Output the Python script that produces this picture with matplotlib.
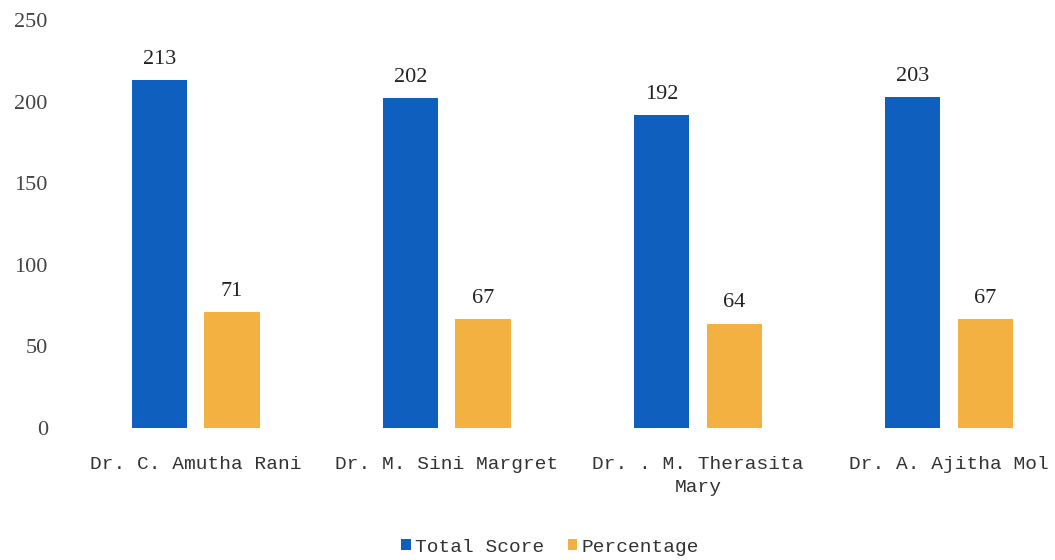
import matplotlib
matplotlib.use("Agg")
import matplotlib.pyplot as plt
import numpy as np

categories = ["Dr. C. Amutha Rani", "Dr. M. Sini Margret", "Dr. . M. Therasita\nMary", "Dr. A. Ajitha Mol"]
total_score = [213, 202, 192, 203]
percentage = [71, 67, 64, 67]
yticks = [0, 50, 100, 150, 200, 250]

blue = "#0F5FBF"
orange = "#F2B141"

fig = plt.figure(figsize=(10.55, 5.6), dpi=100)
ax = fig.add_axes([70/1055, 132/560, (1055-70)/1055, 408/560])

x = np.arange(len(categories))
w = 0.22
off = 0.145
b1 = ax.bar(x - off, total_score, w, color=blue, label="Total Score")
b2 = ax.bar(x + off, percentage, w, color=orange, label="Percentage")

for bars, vals in ((b1, total_score), (b2, percentage)):
    for r, v in zip(bars, vals):
        ax.annotate(str(v), (r.get_x() + r.get_width()/2, v), xytext=(0, 8),
                    textcoords="offset points", ha="center", va="bottom",
                    fontsize=16, family="Liberation Serif", color="#222222")

ax.set_xlim(-0.5, (1055-196)/251)
ax.set_ylim(0, 250)
ax.set_yticks(yticks)
ax.set_yticklabels([str(t) for t in yticks], family="Liberation Serif", fontsize=16, color="#444444")
ax.set_xticks(x)
ax.set_xticklabels(categories, family="Liberation Mono", fontsize=14, color="#333333", linespacing=1.45)
ax.tick_params(axis="both", length=0)
ax.tick_params(axis="y", pad=16)
ax.tick_params(axis="x", pad=20)
for s in ax.spines.values():
    s.set_visible(False)

fig.legend(handles=[b1, b2], labels=["Total Score", "Percentage"], loc="center",
           bbox_to_anchor=(550/1055, 1 - 547/560), ncol=2, frameon=False,
           prop={"family": "Liberation Mono", "size": 14},
           handlelength=0.5, handleheight=0.5, handletextpad=0.2, columnspacing=1.2,
           labelcolor="#333333")

fig.savefig("out.png", dpi=100)
